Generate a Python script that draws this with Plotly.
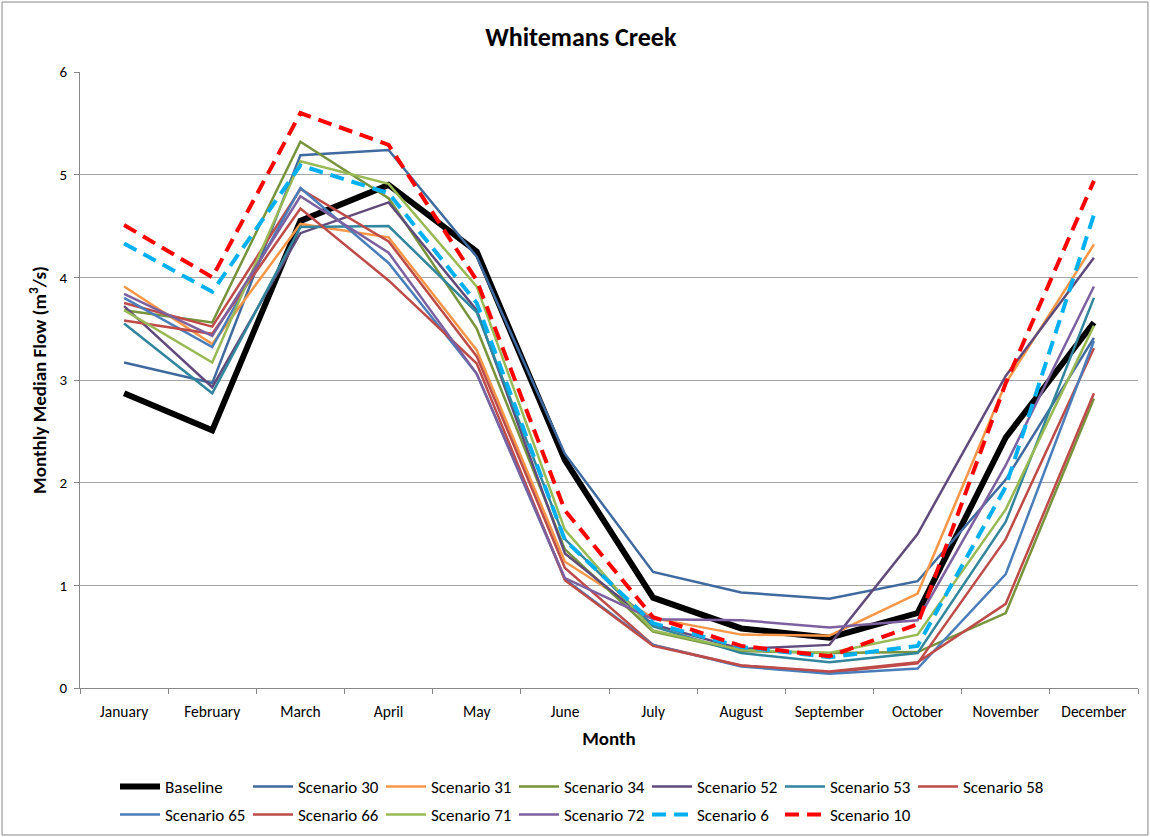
import plotly.graph_objects as go

months = ["January", "February", "March", "April", "May", "June", "July",
          "August", "September", "October", "November", "December"]

baseline = [2.87, 2.51, 4.55, 4.90, 4.25, 2.22, 0.88, 0.58, 0.49, 0.73, 2.44, 3.56]
scen_30 = [3.17, 2.97, 5.19, 5.24, 4.20, 2.28, 1.13, 0.93, 0.87, 1.04, 2.03, 3.41]
scen_31 = [3.91, 3.35, 4.52, 4.39, 3.29, 1.23, 0.68, 0.52, 0.51, 0.92, 2.97, 4.32]
scen_34 = [3.68, 3.56, 5.32, 4.77, 3.50, 1.35, 0.55, 0.36, 0.34, 0.35, 0.73, 2.82]
scen_52 = [3.72, 2.93, 4.43, 4.73, 3.68, 1.31, 0.62, 0.38, 0.42, 1.50, 3.04, 4.19]
scen_53 = [3.55, 2.87, 4.49, 4.50, 3.66, 1.45, 0.60, 0.34, 0.25, 0.34, 1.62, 3.80]
scen_58 = [3.75, 3.52, 4.86, 4.35, 3.23, 1.17, 0.42, 0.22, 0.15, 0.24, 1.45, 3.31]
scen_65 = [3.80, 3.32, 4.87, 4.14, 3.06, 1.06, 0.42, 0.21, 0.14, 0.19, 1.11, 3.38]
scen_66 = [3.58, 3.45, 4.67, 3.97, 3.16, 1.05, 0.41, 0.22, 0.16, 0.25, 0.82, 2.87]
scen_71 = [3.68, 3.17, 5.13, 4.91, 3.91, 1.54, 0.56, 0.37, 0.34, 0.52, 1.74, 3.53]
scen_72 = [3.84, 3.43, 4.79, 4.24, 3.06, 1.07, 0.67, 0.66, 0.59, 0.66, 2.17, 3.91]
scen_6 = [4.33, 3.86, 5.09, 4.82, 3.75, 1.44, 0.63, 0.40, 0.30, 0.41, 1.96, 4.61]
scen_10 = [4.51, 4.00, 5.60, 5.29, 3.97, 1.73, 0.69, 0.41, 0.31, 0.62, 2.97, 4.94]

FONT = "Calibri, Carlito, Lato, sans-serif"

# (name, values, colour, width, dash, legend row)
series = [
    ("Baseline", baseline, "#000000", 6, "solid", "legend"),
    ("Scenario 30", scen_30, "#3F6AA0", 2.5, "solid", "legend"),
    ("Scenario 31", scen_31, "#F79646", 2.5, "solid", "legend"),
    ("Scenario 34", scen_34, "#77933C", 2.5, "solid", "legend"),
    ("Scenario 52", scen_52, "#604A7B", 2.5, "solid", "legend"),
    ("Scenario 53", scen_53, "#31859C", 2.5, "solid", "legend"),
    ("Scenario 58", scen_58, "#BE4B48", 2.5, "solid", "legend"),
    ("Scenario 65", scen_65, "#4A7EBB", 2.5, "solid", "legend2"),
    ("Scenario 66", scen_66, "#BE4B48", 2.5, "solid", "legend2"),
    ("Scenario 71", scen_71, "#98B954", 2.5, "solid", "legend2"),
    ("Scenario 72", scen_72, "#7D60A0", 2.5, "solid", "legend2"),
    ("Scenario 6", scen_6, "#00B0F0", 4, "14px,8px", "legend2"),
    ("Scenario 10", scen_10, "#FF0000", 4, "14px,8px", "legend2"),
]

fig = go.Figure()
for name, vals, color, width, dash, leg in series:
    fig.add_trace(go.Scatter(
        x=months, y=vals, name=name, mode="lines",
        line=dict(color=color, width=width, dash=dash),
        legend=leg,
    ))

# legends are placed in container coords so they don't push the plot margins
legend_style = dict(
    orientation="h", xanchor="left", yanchor="middle",
    xref="container", yref="container",
    itemwidth=40, entrywidth=78, entrywidthmode="pixels",
    font=dict(family=FONT, size=17, color="#000000"),
    bgcolor="rgba(0,0,0,0)",
)

fig.update_layout(
    width=1150, height=837,
    paper_bgcolor="#ffffff", plot_bgcolor="#ffffff",
    font=dict(family=FONT, color="#000000", size=15),
    margin=dict(l=80, r=12, t=72, b=149),
    title=dict(text="<b>Whitemans Creek</b>", x=0.505, xref="container",
               y=0.956, yref="container", xanchor="center", yanchor="middle",
               font=dict(family=FONT, size=26, color="#000000")),
    legend=dict(x=0.100, y=0.0597, **legend_style),
    legend2=dict(x=0.100, y=0.0263, **legend_style),
    showlegend=True,
)

fig.update_xaxes(
    type="category", range=[-0.5, 11.5], tickson="boundaries",
    ticks="outside", ticklen=5, ticklabelstandoff=9,
    tickcolor="#888888", showline=True, linecolor="#888888", linewidth=1,
    showgrid=False, tickfont=dict(size=15.5),
    title=dict(text="<b>Month</b>", font=dict(size=19), standoff=12),
)
fig.update_yaxes(
    range=[0, 6], dtick=1, ticks="outside", ticklen=5, tickcolor="#888888",
    ticklabelstandoff=4,
    showline=True, linecolor="#888888", linewidth=1,
    showgrid=True, gridcolor="#A6A6A6", gridwidth=1, zeroline=False,
    tickfont=dict(size=15),
    title=dict(text="<b>Monthly Median Flow (m<sup>3</sup>/s)</b>",
               font=dict(size=19), standoff=7),
)

# outer chart border
fig.add_shape(type="rect", xref="paper", yref="paper",
              x0=-0.0737, x1=1.0094, y0=-0.2386, y1=1.1136,
              line=dict(color="#888888", width=1))

fig.write_html("out.html", config={"displayModeBar": False},
               post_script="document.body.style.margin='0';")
